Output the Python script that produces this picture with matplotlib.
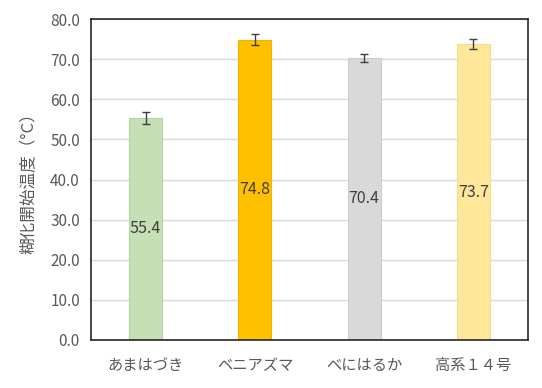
import numpy as np
import matplotlib.pyplot as plt

plt.rcParams['font.family'] = ['Noto Sans CJK JP', 'DejaVu Sans']

# data
varieties = ['あまはづき', 'ベニアズマ', 'べにはるか', '高系１４号']
temps = [55.4, 74.8, 70.4, 73.7]
errs = [1.5, 1.4, 1.0, 1.3]
colors = ['#C5E0B4', '#FFC000', '#D9D9D9', '#FFE699']
edges = ['#B5D3A0', '#F0B400', '#CCCCCC', '#F5DC8C']

fig = plt.figure(figsize=(5.42, 3.88), dpi=100)
ax = fig.add_axes([91/542, 1 - 340/388, 437/542, 321/388])

x = np.arange(len(varieties))
bars = ax.bar(x, temps, width=0.3, color=colors, edgecolor=edges, linewidth=0.8, zorder=2)
ax.errorbar(x, temps, yerr=errs, fmt='none', ecolor='#404040', elinewidth=1.0,
            capsize=3, capthick=1.0, zorder=3)

for xi, v in zip(x, temps):
    ax.text(xi, v / 2, f'{v:.1f}', ha='center', va='center', fontsize=11.5, color='#404040', zorder=4)

ax.set_xlim(-0.5, len(varieties) - 0.5)
ax.set_ylim(0, 80)
ax.set_yticks(np.arange(0, 81, 10))
ax.set_yticklabels([f'{t:.1f}' for t in np.arange(0, 81, 10)])
ax.set_xticks(x)
ax.set_xticklabels(varieties)
ax.tick_params(axis='both', length=0, labelsize=11, labelcolor='#595959')
ax.tick_params(axis='x', pad=12)
ax.tick_params(axis='y', pad=8)
ax.yaxis.grid(True, color='#D9D9D9', linewidth=1.0, zorder=0)
ax.set_axisbelow(True)
for s in ax.spines.values():
    s.set_color('#262626')
    s.set_linewidth(1.2)

ax.set_ylabel('糊化開始温度（°C）', fontsize=12, color='#595959', labelpad=9)

fig.savefig('out.png', dpi=100)
